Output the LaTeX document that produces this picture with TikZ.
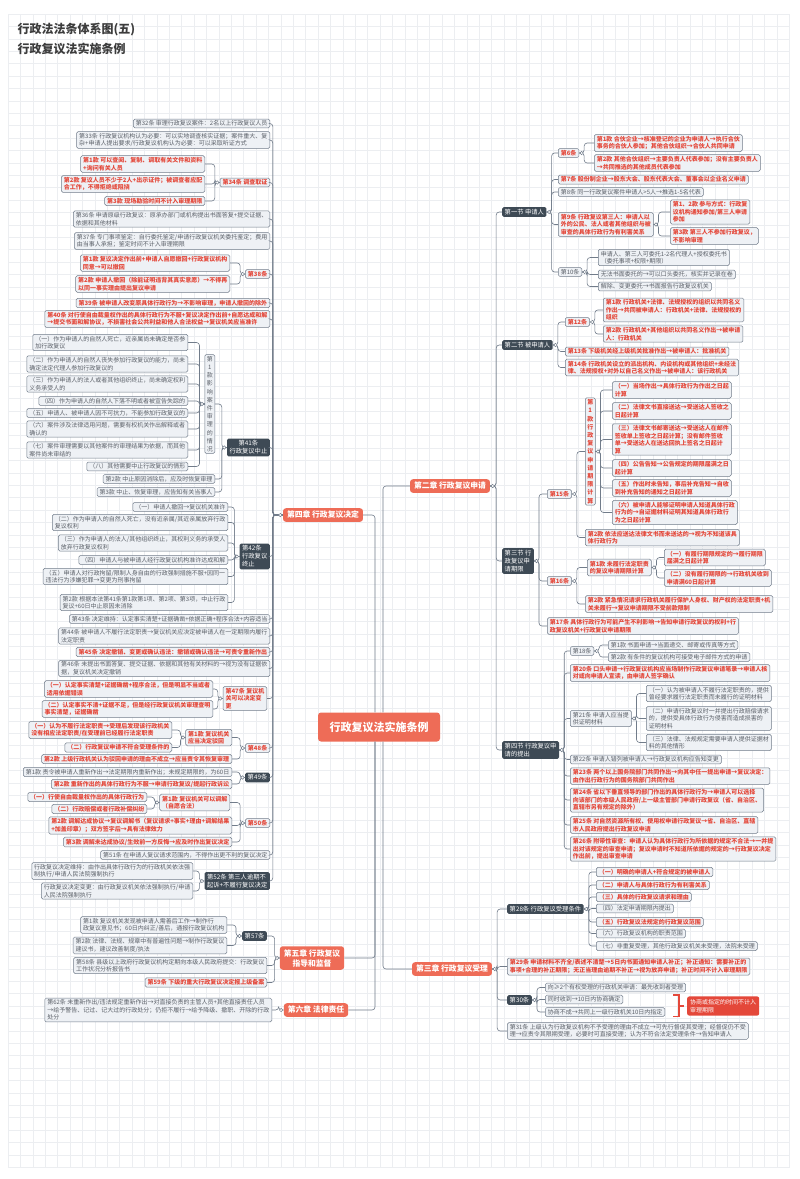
\documentclass[tikz,border=0pt]{standalone}
\usepackage{fontspec}
\setmainfont{Noto Sans CJK SC}
\usetikzlibrary{positioning}

\definecolor{gridc}{HTML}{ECEEF1}
\definecolor{linec}{HTML}{717C8A}
\definecolor{leaffill}{HTML}{EEF1F5}
\definecolor{graytext}{HTML}{5B6068}
\definecolor{redtext}{HTML}{E4483A}
\definecolor{darkfill}{HTML}{3E4A55}
\definecolor{chapfill}{HTML}{EE6C57}
\definecolor{titlec}{HTML}{3C3C3C}

\newcommand\leaffont{\fontsize{6}{7.5}\selectfont}
\newcommand\vertfont{\fontsize{6}{8.2}\selectfont}
\newcommand\chapfont{\fontsize{7.8}{10}\selectfont}

\tikzset{
  leaf/.style={draw=linec, fill=leaffill, rounded corners=1.5pt, line width=0.5pt,
    inner xsep=2.5pt, inner ysep=1.6pt, align=left, font=\leaffont, text=graytext},
  redleaf/.style={leaf, text=redtext, font=\leaffont\bfseries},
  vertbox/.style={leaf, align=center, font=\vertfont, inner xsep=2pt},
  redvert/.style={vertbox, text=redtext, font=\vertfont\bfseries},
  darkbox/.style={fill=darkfill, text=white, rounded corners=1.5pt, inner xsep=2.5pt,
    inner ysep=2pt, align=left, font=\fontsize{6.3}{8}\selectfont},
  chapbox/.style={fill=chapfill, text=white, rounded corners=3pt, inner xsep=4pt,
    inner ysep=3pt, align=center, font=\chapfont\bfseries},
  rootbox/.style={chapbox, minimum width=122pt, minimum height=29pt,
    font=\fontsize{11}{13}\selectfont\bfseries},
  notebox/.style={fill=redtext, text=white, rounded corners=2pt, inner sep=3pt,
    align=left, font=\leaffont\itshape},
  link/.style={draw=linec, line width=0.6pt, rounded corners=3pt},
  knob/.style={draw=linec, fill=white, line width=0.5pt},
  bracketline/.style={draw=redtext, line width=1.3pt},
  gridline/.style={draw=gridc, line width=0.5pt},
}

% parent -> child connectors
\newcommand\linkR[3][5]{\draw[link] (#2.east) -- ++(#1,0) |- (#3.west);}
\newcommand\linkL[3][5]{\draw[link] (#2.west) -- ++(-#1,0) |- (#3.east);}
\newcommand\knobR[1]{\draw[knob] ([xshift=2.5pt]#1.east) circle (1.7pt);}
\newcommand\knobL[1]{\draw[knob] ([xshift=-2.5pt]#1.west) circle (1.7pt);}

\begin{document}
\begin{tikzpicture}[x=1pt,y=-1pt]
    \useasboundingbox (0,0) rectangle (800,1179);
    \fill[white] (0,0) rectangle (800,1179);
    % background grid
    \foreach \gx in {0,...,63} \draw[gridline] ({8+\gx*12.4},14) -- ({8+\gx*12.4},1168);
    \foreach \gy in {0,...,93} \draw[gridline] (8,{14+\gy*12.4}) -- (790,{14+\gy*12.4});

    % Title
    \node[anchor=west, text=titlec, font=\fontsize{12}{14}\selectfont\bfseries] (title1) at (14,30) {行政法法条体系图(五)};
    \node[anchor=west, text=titlec, font=\fontsize{12}{14}\selectfont\bfseries] (title2) at (14,49) {行政复议法实施条例};

    % Root and chapters
    \node[rootbox] (root) at (379,727) {行政复议法实施条例};
    \node[chapbox] (ch2) at (450,486) {第二章 行政复议申请};
    \node[chapbox] (ch4) at (323,515) {第四章 行政复议决定};
    \node[chapbox] (ch5) at (312,958) {第五章 行政复议\\指导和监督};
    \node[chapbox] (ch6) at (316,1010) {第六章 法律责任};
    \node[chapbox] (ch3) at (452,969) {第三章 行政复议受理};

    \draw[link] (ch2.west) -| ([xshift=4pt]root.north);
    \draw[link] (ch4.east) -| ([xshift=-4pt]root.north);
    \draw[link] (ch3.west) -| ([xshift=4pt]root.south);
    \draw[link] (ch5.east) -| ([xshift=-4pt]root.south);
    \draw[link] (ch6.east) -| ([xshift=-4pt]root.south);

    % ---------------- Chapter 2 ----------------
    \node[darkbox, anchor=west] (s1) at (502,212) {第一节 申请人};
    \node[darkbox, anchor=west] (s2) at (502,345) {第二节 被申请人};
    \node[darkbox, anchor=west] (s3) at (502,561) {第三节 行\\政复议申\\请期限};
    \node[darkbox, anchor=west] (s4) at (502,750) {第四节 行政复议申\\请的提出};
    \linkR[6]{ch2}{s1}
    \linkR[6]{ch2}{s2}
    \linkR[6]{ch2}{s3}
    \linkR[6]{ch2}{s4}

    % Section 1
    \node[redleaf, anchor=west] (a6) at (558,153) {第6条};
    \node[redleaf, anchor=west] (a6k1) at (594,143) {第1款 合伙企业→核准登记的企业为申请人→执行合伙\\事务的合伙人参加；其他合伙组织→合伙人共同申请};
    \node[redleaf, anchor=west] (a6k2) at (594,163) {第2款 其他合伙组织→主要负责人代表参加；没有主要负责人\\→共同推选的其他成员代表参加};
    \node[redleaf, anchor=west] (a7) at (558,179.5) {第7条 股份制企业→股东大会、股东代表大会、董事会以企业名义申请};
    \node[leaf, anchor=west] (a8) at (558,192) {第8条 同一行政复议案件申请人>5人→推选1-5名代表};
    \node[redleaf, anchor=west] (a9) at (558,224.5) {第9条 行政复议第三人：申请人以\\外的公民、法人或者其他组织与被\\审查的具体行政行为有利害关系};
    \node[redleaf, anchor=west] (a9k12) at (670,212) {第1、2款 参与方式：行政复\\议机构通知参加/第三人申请\\参加};
    \node[redleaf, anchor=west] (a9k3) at (670,236) {第3款 第三人不参加行政复议，\\不影响审理};
    \node[leaf, anchor=west] (a10) at (558,272) {第10条};
    \node[leaf, anchor=west] (a10a) at (598,257.5) {申请人、第三人可委托1-2名代理人+授权委托书\\（委托事项+权限+期限）};
    \node[leaf, anchor=west] (a10b) at (598,274.5) {无法书面委托的→可以口头委托，核实并记录在卷};
    \node[leaf, anchor=west] (a10c) at (598,286.5) {解除、变更委托→书面报告行政复议机关};
    \linkR{s1}{a6}
    \linkR{s1}{a7}
    \linkR{s1}{a8}
    \linkR{s1}{a9}
    \linkR{s1}{a10}
    \linkR{a6}{a6k1}
    \linkR{a6}{a6k2}
    \linkR{a9}{a9k12}
    \linkR{a9}{a9k3}
    \linkR{a10}{a10a}
    \linkR{a10}{a10b}
    \linkR{a10}{a10c}

    % Section 2
    \node[redleaf, anchor=west] (a12) at (565,322) {第12条};
    \node[redleaf, anchor=west] (a12k1) at (603,310) {第1款 行政机关+法律、法规授权的组织以共同名义\\作出→共同被申请人：行政机关+法律、法规授权的\\组织};
    \node[redleaf, anchor=west] (a12k2) at (603,334) {第2款 行政机关+其他组织以共同名义作出→被申请\\人：行政机关};
    \node[redleaf, anchor=west] (a13) at (565,351.5) {第13条 下级机关经上级机关批准作出→被申请人：批准机关};
    \node[redleaf, anchor=west] (a14) at (565,367.5) {第14条 行政机关设立的派出机构、内设机构或其他组织+未经法\\律、法规授权+对外以自己名义作出→被申请人：该行政机关};
    \linkR{s2}{a12}
    \linkR{s2}{a13}
    \linkR{s2}{a14}
    \linkR{a12}{a12k1}
    \linkR{a12}{a12k2}

    % Section 3
    \node[redleaf, anchor=west] (a15) at (547,494) {第15条};
    \node[redvert, anchor=west] (a15k1) at (585,451.5) {第\\1\\款\\行\\政\\复\\议\\申\\请\\期\\限\\计\\算};
    \node[redleaf, anchor=west] (a15i1) at (612,390) {（一）当场作出→具体行政行为作出之日起\\计算};
    \node[redleaf, anchor=west] (a15i2) at (612,411) {（二）法律文书直接送达→受送达人签收之\\日起计算};
    \node[redleaf, anchor=west] (a15i3) at (612,439.5) {（三）法律文书邮寄送达→受送达人在邮件\\签收单上签收之日起计算；没有邮件签收\\单→受送达人在送达回执上签名之日起计\\算};
    \node[redleaf, anchor=west] (a15i4) at (612,468) {（四）公告告知→公告规定的期限届满之日\\起计算};
    \node[redleaf, anchor=west] (a15i5) at (612,488) {（五）作出时未告知，事后补充告知→自收\\到补充告知的通知之日起计算};
    \node[redleaf, anchor=west] (a15i6) at (612,512.5) {（六）被申请人能够证明申请人知道具体行政\\行为的→自证据材料证明其知道具体行政行\\为之日起计算};
    \node[redleaf, anchor=west] (a15k2) at (585,537.5) {第2款 依法应送达法律文书而未送达的→视为不知道该具\\体行政行为};
    \node[redleaf, anchor=west] (a16) at (547,581) {第16条};
    \node[redleaf, anchor=west] (a16k1) at (587,567.5) {第1款 未履行法定职责\\的复议申请期限计算};
    \node[redleaf, anchor=west] (a16i1) at (664,557.5) {（一）有履行期限规定的→履行期限\\届满之日起计算};
    \node[redleaf, anchor=west] (a16i2) at (664,578) {（二）没有履行期限的→行政机关收到\\申请满60日起计算};
    \node[redleaf, anchor=west] (a16k2) at (585,604) {第2款 紧急情况请求行政机关履行保护人身权、财产权的法定职责+机\\关未履行→复议申请期限不受前款限制};
    \node[redleaf, anchor=west] (a17) at (547,626) {第17条 具体行政行为可能产生不利影响→告知申请行政复议的权利+行\\政复议机关+行政复议申请期限};
    \linkR{s3}{a15}
    \linkR{s3}{a16}
    \linkR{s3}{a17}
    \linkR{a15}{a15k1}
    \linkR{a15}{a15k2}
    \linkR{a15k1}{a15i1}
    \linkR{a15k1}{a15i2}
    \linkR{a15k1}{a15i3}
    \linkR{a15k1}{a15i4}
    \linkR{a15k1}{a15i5}
    \linkR{a15k1}{a15i6}
    \linkR{a16}{a16k1}
    \linkR{a16}{a16k2}
    \linkR{a16k1}{a16i1}
    \linkR{a16k1}{a16i2}

    % Section 4
    \node[leaf, anchor=west] (a18) at (570,651) {第18条};
    \node[leaf, anchor=west] (a18k1) at (608,645) {第1款 书面申请→当面递交、邮寄或传真等方式};
    \node[leaf, anchor=west] (a18k2) at (608,657) {第2款 有条件的复议机构可接受电子邮件方式的申请};
    \node[redleaf, anchor=west] (a20) at (570,673) {第20条 口头申请→行政复议机构应当场制作行政复议申请笔录→申请人核\\对或向申请人宣读，由申请人签字确认};
    \node[leaf, anchor=west] (a21) at (570,718.5) {第21条 申请人应当提\\供证明材料};
    \node[leaf, anchor=west] (a21i1) at (646,693.5) {（一）认为被申请人不履行法定职责的，提供\\曾经要求履行法定职责而未履行的证明材料};
    \node[leaf, anchor=west] (a21i2) at (646,718.5) {（二）申请行政复议时一并提出行政赔偿请求\\的，提供受具体行政行为侵害而造成损害的\\证明材料};
    \node[leaf, anchor=west] (a21i3) at (646,742.5) {（三）法律、法规规定需要申请人提供证据材\\料的其他情形};
    \node[leaf, anchor=west] (a22) at (570,759.5) {第22条 申请人错列被申请人→行政复议机构应告知变更};
    \node[redleaf, anchor=west] (a23) at (570,776) {第23条 两个以上国务院部门共同作出→向其中任一提出申请→复议决定：\\由作出行政行为的国务院部门共同作出};
    \node[redleaf, anchor=west] (a24) at (570,800) {第24条 省以下垂直领导的部门作出的具体行政行为→申请人可以选择\\向该部门的本级人民政府/上一级主管部门申请行政复议（省、自治区、\\直辖市另有规定的除外）};
    \node[redleaf, anchor=west] (a25) at (570,825) {第25条 对自然资源所有权、使用权申请行政复议→省、自治区、直辖\\市人民政府提出行政复议申请};
    \node[redleaf, anchor=west] (a26) at (570,849) {第26条 附带性审查：申请人认为具体行政行为所依据的规定不合法→一并提\\出对该规定的审查申请；复议申请时不知道所依据的规定的→行政复议决定\\作出前，提出审查申请};
    \linkR{s4}{a18}
    \linkR{s4}{a20}
    \linkR{s4}{a21}
    \linkR{s4}{a22}
    \linkR{s4}{a23}
    \linkR{s4}{a24}
    \linkR{s4}{a25}
    \linkR{s4}{a26}
    \linkR{a18}{a18k1}
    \linkR{a18}{a18k2}
    \linkR{a21}{a21i1}
    \linkR{a21}{a21i2}
    \linkR{a21}{a21i3}

    % ---------------- Chapter 3 ----------------
    \node[darkbox, anchor=west] (a28) at (507,909) {第28条 行政复议受理条件};
    \node[redleaf, anchor=west] (a28i1) at (596,872) {（一）明确的申请人+符合规定的被申请人};
    \node[redleaf, anchor=west] (a28i2) at (596,885) {（二）申请人与具体行政行为有利害关系};
    \node[redleaf, anchor=west] (a28i3) at (596,897) {（三）具体的行政复议请求和理由};
    \node[leaf, anchor=west] (a28i4) at (596,908.5) {（四）法定申请期限内提出};
    \node[redleaf, anchor=west] (a28i5) at (596,922) {（五）行政复议法规定的行政复议范围};
    \node[leaf, anchor=west] (a28i6) at (596,933.5) {（六）行政复议机构的职责范围};
    \node[leaf, anchor=west] (a28i7) at (596,946) {（七）非重复受理，其他行政复议机关未受理，法院未受理};
    \node[redleaf, anchor=west] (a29) at (507,966.5) {第29条 申请材料不齐全/表述不清楚→5日内书面通知申请人补正；补正通知：需要补正的\\事项+合理的补正期限；无正当理由逾期不补正→视为放弃申请；补正时间不计入审理期限};
    \node[darkbox, anchor=west] (a30) at (507,1000) {第30条};
    \node[leaf, anchor=west] (a30a) at (545,987.5) {向≥2个有权受理的行政机关申请：最先收到者受理};
    \node[leaf, anchor=west] (a30b) at (545,999.5) {同时收到→10日内协商确定};
    \node[leaf, anchor=west] (a30c) at (545,1012) {协商不成→共同上一级行政机关10日内指定};
    \node[notebox, anchor=west] (note) at (687,1006) {协商或指定的时间不计入\\审理期限};
    \node[leaf, anchor=west] (a31) at (507,1031) {第31条 上级认为行政复议机构不予受理的理由不成立→可先行督促其受理；经督促仍不受\\理→应责令其限期受理，必要时可直接受理；认为不符合法定受理条件→告知申请人};
    \linkR{ch3}{a28}
    \linkR{ch3}{a29}
    \linkR{ch3}{a30}
    \linkR{ch3}{a31}
    \linkR{a28}{a28i1}
    \linkR{a28}{a28i2}
    \linkR{a28}{a28i3}
    \linkR{a28}{a28i4}
    \linkR{a28}{a28i5}
    \linkR{a28}{a28i6}
    \linkR{a28}{a28i7}
    \linkR{a30}{a30a}
    \linkR{a30}{a30b}
    \linkR{a30}{a30c}
    \draw[bracketline] ([xshift=-14pt]note.west |- a30b.north) -- ([xshift=-8pt]note.west |- a30b.north)
        -- ([xshift=-8pt]note.west |- a30c.south) -- ([xshift=-14pt]note.west |- a30c.south);
    \draw[bracketline] ([xshift=-8pt]note.west) -- ([xshift=-3pt]note.west);

    % ---------------- Chapter 4 ----------------
    \node[leaf, anchor=east] (a32) at (270,123.5) {第32条 审理行政复议案件：2名以上行政复议人员};
    \node[leaf, anchor=east] (a33) at (270,140) {第33条 行政复议机构认为必要：可以实地调查核实证据；案件重大、复\\杂+申请人提出要求/行政复议机构认为必要：可以采取听证方式};
    \node[redleaf, anchor=east] (a34) at (270,182.5) {第34条 调查取证};
    \node[redleaf, anchor=east] (a34k1) at (205,164) {第1款 可以查阅、复制、调取有关文件和资料\\+询问有关人员};
    \node[redleaf, anchor=east] (a34k2) at (205,184) {第2款 复议人员不少于2人+出示证件；被调查者应配\\合工作，不得拒绝或阻挠};
    \node[redleaf, anchor=east] (a34k3) at (205,201) {第3款 现场勘验时间不计入审理期限};
    \node[leaf, anchor=east] (a36) at (270,219) {第36条 申请原级行政复议：原承办部门或机构提出书面答复+提交证据、\\依据和其他材料};
    \node[leaf, anchor=east] (a37) at (270,241) {第37条 专门事项鉴定：自行委托鉴定/申请行政复议机关委托鉴定；费用\\由当事人承担；鉴定时间不计入审理期限};
    \node[redleaf, anchor=east] (a38) at (270,274) {第38条};
    \node[redleaf, anchor=east] (a38k1) at (230,263) {第1款 复议决定作出前+申请人自愿撤回+行政复议机构\\同意→可以撤回};
    \node[redleaf, anchor=east] (a38k2) at (230,284) {第2款 申请人撤回（除能证明违背其真实意愿）→不得再\\以同一事实理由提出复议申请};
    \node[redleaf, anchor=east] (a39) at (270,303) {第39条 被申请人改变原具体行政行为→不影响审理，申请人撤回的除外};
    \node[redleaf, anchor=east] (a40) at (270,319) {第40条 对行使自由裁量权作出的具体行政行为不服+复议决定作出前+自愿达成和解\\→提交书面和解协议，不损害社会公共利益和他人合法权益→复议机关应当准许};
    % Article 41
    \node[darkbox, anchor=east, align=center] (a41) at (270,447.5) {第41条\\行政复议中止};
    \node[vertbox, anchor=east] (a41k1) at (215,404) {第\\1\\款\\影\\响\\案\\件\\审\\理\\的\\情\\况};
    \node[leaf, anchor=east] (a41i1) at (188,342.5) {（一）作为申请人的自然人死亡，近亲属尚未确定是否参\\加行政复议};
    \node[leaf, anchor=east] (a41i2) at (188,364) {（二）作为申请人的自然人丧失参加行政复议的能力，尚未\\确定法定代理人参加行政复议的};
    \node[leaf, anchor=east] (a41i3) at (188,384) {（三）作为申请人的法人或者其他组织终止，尚未确定权利\\义务承受人的};
    \node[leaf, anchor=east] (a41i4) at (188,401) {（四）作为申请人的自然人下落不明或者被宣告失踪的};
    \node[leaf, anchor=east] (a41i5) at (188,413) {（五）申请人、被申请人因不可抗力，不能参加行政复议的};
    \node[leaf, anchor=east] (a41i6) at (188,429) {（六）案件涉及法律适用问题，需要有权机关作出解释或者\\确认的};
    \node[leaf, anchor=east] (a41i7) at (188,450) {（七）案件审理需要以其他案件的审理结果为依据，而其他\\案件尚未审结的};
    \node[leaf, anchor=east] (a41i8) at (188,466.5) {（八）其他需要中止行政复议的情形};
    \node[leaf, anchor=east] (a41k2) at (215,479) {第2款 中止原因消除后，应及时恢复审理};
    \node[leaf, anchor=east] (a41k3) at (215,492) {第3款 中止、恢复审理，应告知有关当事人};
    % Article 42
    \node[darkbox, anchor=east] (a42) at (270,556.5) {第42条\\行政复议\\终止};
    \node[leaf, anchor=east] (a42i1) at (228,507) {（一）申请人撤回→复议机关准许};
    \node[leaf, anchor=east] (a42i2) at (228,522.5) {（二）作为申请人的自然人死亡，没有近亲属/其近亲属放弃行政\\复议权利};
    \node[leaf, anchor=east] (a42i3) at (228,543) {（三）作为申请人的法人/其他组织终止，其权利义务的承受人\\放弃行政复议权利};
    \node[leaf, anchor=east] (a42i4) at (228,560) {（四）申请人与被申请人经行政复议机构准许达成和解};
    \node[leaf, anchor=east] (a42i5) at (228,576.5) {（五）申请人对行政拘留/限制人身自由的行政强制措施不服+因同一\\违法行为涉嫌犯罪→变更为刑事拘留};
    \node[leaf, anchor=east] (a42k2) at (228,602.5) {第2款 根据本法第41条第1款第1项、第2项、第3项，中止行政\\复议+60日中止原因未消除};
    \node[leaf, anchor=east] (a43) at (270,619) {第43条 决定维持：认定事实清楚+证据确凿+依据正确+程序合法+内容适当};
    \node[leaf, anchor=east] (a44) at (270,636) {第44条 被申请人不履行法定职责→复议机关应决定被申请人在一定期限内履行\\法定职责};
    \node[redleaf, anchor=east] (a45) at (270,652) {第45条 决定撤销、变更或确认违法：撤销或确认违法→可责令重新作出};
    \node[leaf, anchor=east] (a46) at (270,668.5) {第46条 未提出书面答复、提交证据、依据和其他有关材料的→视为没有证据依\\据，复议机关决定撤销};
    % Article 47 - 48
    \node[redleaf, anchor=east] (a47) at (267,698.5) {第47条 复议机\\关可以决定变\\更};
    \node[redleaf, anchor=east] (a47i1) at (213,689) {（一）认定事实清楚+证据确凿+程序合法，但是明显不当或者\\适用依据错误};
    \node[redleaf, anchor=east] (a47i2) at (213,709) {（二）认定事实不清+证据不足，但是经行政复议机关审理查明\\事实清楚，证据确凿};
    \node[redleaf, anchor=east] (a48) at (270,748) {第48条};
    \node[redleaf, anchor=east] (a48k1) at (232,737.5) {第1款 复议机关\\应当决定驳回};
    \node[redleaf, anchor=east] (a48i1) at (172,730) {（一）认为不履行法定职责→受理后发现该行政机关\\没有相应法定职责/在受理前已经履行法定职责};
    \node[redleaf, anchor=east] (a48i2) at (172,747.5) {（二）行政复议申请不符合受理条件的};
    \node[redleaf, anchor=east] (a48k2) at (232,759) {第2款 上级行政机关认为驳回申请的理由不成立→应当责令其恢复审理};
    % Article 49 - 52
    \node[darkbox, anchor=east] (a49) at (270,777.5) {第49条};
    \node[leaf, anchor=east] (a49k1) at (232,772) {第1款 责令被申请人重新作出→法定期限内重新作出；未规定期限的，为60日};
    \node[redleaf, anchor=east] (a49k2) at (232,784) {第2款 重新作出的具体行政行为不服→申请行政复议/提起行政诉讼};
    \node[redleaf, anchor=east] (a50) at (270,823) {第50条};
    \node[redleaf, anchor=east] (a50k1) at (230,802.5) {第1款 复议机关可以调解\\（自愿合法）};
    \node[redleaf, anchor=east] (a50i1) at (147,797) {（一）行使自由裁量权作出的具体行政行为};
    \node[redleaf, anchor=east] (a50i2) at (147,809) {（二）行政赔偿或者行政补偿纠纷};
    \node[redleaf, anchor=east] (a50k2) at (232,825.5) {第2款 调解达成协议→复议调解书（复议请求+事实+理由+调解结果\\+加盖印章）；双方签字后→具有法律效力};
    \node[redleaf, anchor=east] (a50k3) at (232,842) {第3款 调解未达成协议/生效前一方反悔→应及时作出复议决定};
    \node[leaf, anchor=east] (a51) at (270,855) {第51条 在申请人复议请求范围内，不得作出更不利的复议决定};
    \node[darkbox, anchor=east] (a52) at (270,881) {第52条 第三人逾期不\\起诉+不履行复议决定};
    \node[leaf, anchor=east] (a52a) at (193,871) {行政复议决定维持：由作出具体行政行为的行政机关依法强\\制执行/申请人民法院强制执行};
    \node[leaf, anchor=east] (a52b) at (193,891) {行政复议决定变更：由行政复议机关依法强制执行/申请\\人民法院强制执行};

    \linkL[10]{ch4}{a32}
    \linkL[10]{ch4}{a33}
    \linkL[10]{ch4}{a34}
    \linkL[10]{ch4}{a36}
    \linkL[10]{ch4}{a37}
    \linkL[10]{ch4}{a38}
    \linkL[10]{ch4}{a39}
    \linkL[10]{ch4}{a40}
    \linkL[10]{ch4}{a41}
    \linkL[10]{ch4}{a42}
    \linkL[10]{ch4}{a43}
    \linkL[10]{ch4}{a44}
    \linkL[10]{ch4}{a45}
    \linkL[10]{ch4}{a46}
    \linkL[10]{ch4}{a47}
    \linkL[10]{ch4}{a48}
    \linkL[10]{ch4}{a49}
    \linkL[10]{ch4}{a50}
    \linkL[10]{ch4}{a51}
    \linkL[10]{ch4}{a52}
    \linkL{a34}{a34k1}
    \linkL{a34}{a34k2}
    \linkL{a34}{a34k3}
    \linkL{a38}{a38k1}
    \linkL{a38}{a38k2}
    \linkL{a41}{a41k1}
    \linkL{a41}{a41k2}
    \linkL{a41}{a41k3}
    \linkL{a41k1}{a41i1}
    \linkL{a41k1}{a41i2}
    \linkL{a41k1}{a41i3}
    \linkL{a41k1}{a41i4}
    \linkL{a41k1}{a41i5}
    \linkL{a41k1}{a41i6}
    \linkL{a41k1}{a41i7}
    \linkL{a41k1}{a41i8}
    \linkL{a42}{a42i1}
    \linkL{a42}{a42i2}
    \linkL{a42}{a42i3}
    \linkL{a42}{a42i4}
    \linkL{a42}{a42i5}
    \linkL{a42}{a42k2}
    \linkL{a47}{a47i1}
    \linkL{a47}{a47i2}
    \linkL{a48}{a48k1}
    \linkL{a48}{a48k2}
    \linkL{a48k1}{a48i1}
    \linkL{a48k1}{a48i2}
    \linkL{a49}{a49k1}
    \linkL{a49}{a49k2}
    \linkL{a50}{a50k1}
    \linkL{a50}{a50k2}
    \linkL{a50}{a50k3}
    \linkL{a50k1}{a50i1}
    \linkL{a50k1}{a50i2}
    \linkL{a52}{a52a}
    \linkL{a52}{a52b}

    % ---------------- Chapter 5 and 6 ----------------
    \node[darkbox, anchor=east] (a57) at (267,936) {第57条};
    \node[leaf, anchor=east] (a57k1) at (227,925) {第1款 复议机关发现被申请人需善后工作→制作行\\政复议意见书；60日内纠正/善后，通报行政复议机构};
    \node[leaf, anchor=east] (a57k2) at (227,945.5) {第2款 法律、法规、规章中有普遍性问题→制作行政复议\\建议书，建议改善制度/执法};
    \node[leaf, anchor=east] (a58) at (267,965.5) {第58条 县级以上政府行政复议机构定期向本级人民政府提交：行政复议\\工作状况分析报告书};
    \node[redleaf, anchor=east] (a59) at (267,982.5) {第59条 下级的重大行政复议决定报上级备案};
    \node[leaf, anchor=east] (a62) at (272,1010) {第62条 未重新作出/违法规定重新作出→对直接负责的主管人员+其他直接责任人员\\→给予警告、记过、记大过的行政处分；仍拒不履行→给予降级、撤职、开除的行政\\处分};
    \linkL{ch5}{a57}
    \linkL{ch5}{a58}
    \linkL{ch5}{a59}
    \linkL[6]{a57}{a57k1}
    \linkL[6]{a57}{a57k2}
    \linkL{ch6}{a62}

    % collapse knobs
    \knobR{ch2} \knobR{ch3} \knobL{ch4} \knobL{ch5} \knobL{ch6}
    \knobR{s1} \knobR{s2} \knobR{s3} \knobR{s4}
    \knobR{a6} \knobR{a9} \knobR{a10} \knobR{a12} \knobR{a15} \knobR{a15k1}
    \knobR{a16} \knobR{a16k1} \knobR{a18} \knobR{a21} \knobR{a28} \knobR{a30}
    \knobL{a34} \knobL{a38} \knobL{a41} \knobL{a41k1} \knobL{a42} \knobL{a47}
    \knobL{a48} \knobL{a48k1} \knobL{a49} \knobL{a50} \knobL{a50k1} \knobL{a52} \knobL{a57}
\end{tikzpicture}
\end{document}
